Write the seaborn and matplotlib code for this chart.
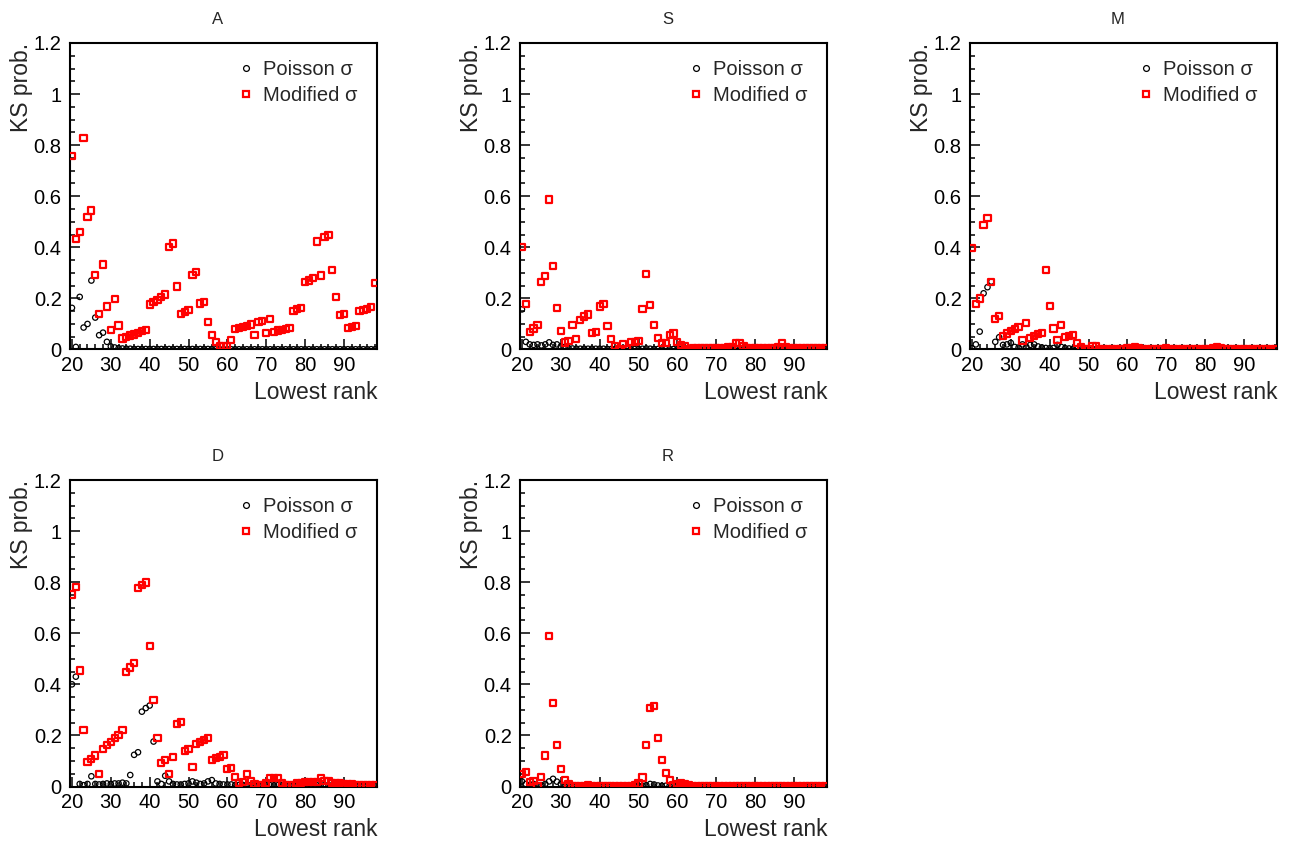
import numpy as np
import pandas as pd
import seaborn as sns
import matplotlib.pyplot as plt
from matplotlib.lines import Line2D
from matplotlib.ticker import MultipleLocator, FuncFormatter

rank = list(range(20, 99))

# panel A
poisson_A = [0.163, 0.010, 0.206, 0.086, 0.100, 0.270, 0.125, 0.056, 0.066, 0.030,
             0.012, 0.008, 0.005, 0.004, 0.003, 0.003, 0.002, 0.002, 0.002, 0.002,
             0.002, 0.002, 0.002, 0.002, 0.002, 0.002, 0.002, 0.002, 0.002, 0.002,
             0.002, 0.002, 0.002, 0.002, 0.002, 0.002, 0.002, 0.001, 0.001, 0.001,
             0.001, 0.001, 0.001, 0.001, 0.001, 0.001, 0.001, 0.001, 0.001, 0.001,
             0.001, 0.001, 0.001, 0.001, 0.001, 0.001, 0.001, 0.001, 0.001, 0.001,
             0.001, 0.001, 0.001, 0.001, 0.001, 0.001, 0.001, 0.001, 0.001, 0.001,
             0.001, 0.001, 0.001, 0.001, 0.001, 0.001, 0.001, 0.001, 0.001]
modified_A = [0.759, 0.434, 0.460, 0.827, 0.518, 0.544, 0.293, 0.139, 0.333, 0.168,
              0.077, 0.198, 0.094, 0.043, 0.048, 0.055, 0.059, 0.066, 0.073, 0.075,
              0.176, 0.186, 0.193, 0.207, 0.215, 0.401, 0.415, 0.247, 0.139, 0.148,
              0.156, 0.293, 0.302, 0.180, 0.187, 0.107, 0.057, 0.030, 0.015, 0.015,
              0.015, 0.037, 0.079, 0.085, 0.089, 0.092, 0.098, 0.056, 0.107, 0.111,
              0.065, 0.120, 0.070, 0.074, 0.077, 0.081, 0.085, 0.150, 0.159, 0.161,
              0.264, 0.270, 0.279, 0.423, 0.290, 0.439, 0.447, 0.310, 0.206, 0.134,
              0.138, 0.083, 0.087, 0.092, 0.151, 0.155, 0.160, 0.165, 0.260]

# panel S
poisson_S = [0.157, 0.030, 0.020, 0.018, 0.020, 0.016, 0.020, 0.028, 0.018, 0.020,
             0.012, 0.010, 0.005, 0.004, 0.003, 0.003, 0.003, 0.003, 0.003, 0.003,
             0.003, 0.003, 0.002, 0.002, 0.002, 0.002, 0.002, 0.002, 0.002, 0.002,
             0.002, 0.003, 0.004, 0.003, 0.002, 0.002, 0.002, 0.002, 0.002, 0.002,
             0.002, 0.002, 0.001, 0.001, 0.001, 0.001, 0.001, 0.001, 0.001, 0.001,
             0.001, 0.001, 0.001, 0.002, 0.002, 0.003, 0.003, 0.002, 0.001, 0.001,
             0.001, 0.001, 0.001, 0.001, 0.001, 0.001, 0.002, 0.002, 0.001, 0.001,
             0.001, 0.001, 0.001, 0.001, 0.001, 0.001, 0.001, 0.001, 0.001]
modified_S = [0.400, 0.178, 0.067, 0.082, 0.096, 0.263, 0.287, 0.587, 0.327, 0.163,
              0.071, 0.027, 0.032, 0.095, 0.041, 0.117, 0.129, 0.137, 0.065, 0.069,
              0.168, 0.178, 0.092, 0.040, 0.015, 0.003, 0.020, 0.003, 0.028, 0.030,
              0.032, 0.158, 0.296, 0.173, 0.096, 0.046, 0.024, 0.024, 0.058, 0.063,
              0.028, 0.018, 0.014, 0.003, 0.004, 0.004, 0.004, 0.004, 0.004, 0.004,
              0.004, 0.004, 0.006, 0.009, 0.011, 0.024, 0.024, 0.014, 0.006, 0.004,
              0.004, 0.004, 0.004, 0.004, 0.004, 0.006, 0.011, 0.024, 0.011, 0.005,
              0.004, 0.004, 0.004, 0.004, 0.004, 0.004, 0.004, 0.004, 0.004]

# panel M
poisson_M = [0.005, 0.020, 0.070, 0.220, 0.244, 0.266, 0.030, 0.048, 0.018, 0.020,
             0.026, 0.010, 0.008, 0.020, 0.010, 0.018, 0.020, 0.012, 0.008, 0.006,
             0.005, 0.006, 0.018, 0.010, 0.005, 0.004, 0.003, 0.003, 0.002, 0.002,
             0.002, 0.002, 0.002, 0.002, 0.002, 0.002, 0.002, 0.002, 0.002, 0.002,
             0.001, 0.001, 0.001, 0.001, 0.001, 0.001, 0.001, 0.001, 0.001, 0.001,
             0.001, 0.001, 0.001, 0.001, 0.001, 0.001, 0.001, 0.001, 0.001, 0.001,
             0.001, 0.001, 0.001, 0.001, 0.001, 0.001, 0.001, 0.001, 0.001, 0.001,
             0.001, 0.001, 0.001, 0.001, 0.001, 0.001, 0.001, 0.001, 0.001]
modified_M = [0.397, 0.178, 0.200, 0.486, 0.514, 0.265, 0.118, 0.131, 0.054, 0.063,
              0.073, 0.080, 0.089, 0.035, 0.105, 0.046, 0.053, 0.061, 0.065, 0.310,
              0.169, 0.082, 0.036, 0.097, 0.049, 0.053, 0.057, 0.024, 0.011, 0.003,
              0.003, 0.015, 0.015, 0.003, 0.002, 0.002, 0.002, 0.002, 0.002, 0.003,
              0.004, 0.006, 0.008, 0.004, 0.003, 0.003, 0.002, 0.002, 0.002, 0.002,
              0.006, 0.003, 0.002, 0.002, 0.002, 0.002, 0.002, 0.002, 0.002, 0.002,
              0.002, 0.003, 0.004, 0.008, 0.004, 0.003, 0.002, 0.002, 0.002, 0.002,
              0.002, 0.002, 0.002, 0.002, 0.002, 0.002, 0.002, 0.002, 0.002]

# panel D
poisson_D = [0.400, 0.430, 0.010, 0.005, 0.010, 0.040, 0.010, 0.008, 0.010, 0.012,
             0.010, 0.012, 0.012, 0.015, 0.012, 0.045, 0.124, 0.134, 0.293, 0.307,
             0.317, 0.176, 0.020, 0.010, 0.042, 0.020, 0.010, 0.008, 0.008, 0.010,
             0.012, 0.020, 0.015, 0.010, 0.012, 0.020, 0.025, 0.012, 0.010, 0.008,
             0.008, 0.008, 0.006, 0.006, 0.006, 0.006, 0.005, 0.005, 0.005, 0.005,
             0.005, 0.005, 0.005, 0.005, 0.005, 0.005, 0.005, 0.005, 0.005, 0.005,
             0.005, 0.005, 0.005, 0.005, 0.005, 0.005, 0.005, 0.005, 0.005, 0.005,
             0.004, 0.004, 0.004, 0.004, 0.004, 0.004, 0.004, 0.004, 0.004]
modified_D = [0.752, 0.781, 0.454, 0.222, 0.095, 0.108, 0.121, 0.049, 0.148, 0.162,
              0.175, 0.189, 0.202, 0.222, 0.448, 0.466, 0.484, 0.777, 0.790, 0.799,
              0.551, 0.339, 0.189, 0.093, 0.103, 0.048, 0.117, 0.244, 0.253, 0.139,
              0.148, 0.075, 0.165, 0.175, 0.181, 0.189, 0.103, 0.113, 0.117, 0.122,
              0.067, 0.071, 0.036, 0.015, 0.018, 0.049, 0.022, 0.010, 0.005, 0.005,
              0.013, 0.032, 0.032, 0.032, 0.015, 0.006, 0.006, 0.006, 0.013, 0.013,
              0.017, 0.017, 0.017, 0.017, 0.032, 0.020, 0.020, 0.013, 0.013, 0.013,
              0.008, 0.008, 0.008, 0.005, 0.005, 0.005, 0.005, 0.005, 0.005]

# panel R
poisson_R = [0.020, 0.010, 0.005, 0.010, 0.005, 0.005, 0.010, 0.020, 0.030, 0.019,
             0.010, 0.003, 0.003, 0.003, 0.003, 0.003, 0.003, 0.003, 0.003, 0.003,
             0.003, 0.003, 0.003, 0.003, 0.003, 0.003, 0.003, 0.003, 0.003, 0.003,
             0.003, 0.003, 0.005, 0.010, 0.008, 0.004, 0.003, 0.003, 0.003, 0.003,
             0.003, 0.003, 0.003, 0.002, 0.002, 0.002, 0.002, 0.002, 0.002, 0.002,
             0.002, 0.002, 0.002, 0.002, 0.002, 0.002, 0.002, 0.002, 0.002, 0.002,
             0.002, 0.002, 0.002, 0.002, 0.002, 0.002, 0.002, 0.002, 0.002, 0.002,
             0.002, 0.002, 0.002, 0.002, 0.002, 0.002, 0.002, 0.002, 0.002]
modified_R = [0.049, 0.057, 0.018, 0.020, 0.002, 0.036, 0.121, 0.590, 0.327, 0.162,
              0.070, 0.024, 0.008, 0.003, 0.002, 0.002, 0.002, 0.004, 0.002, 0.002,
              0.002, 0.002, 0.002, 0.002, 0.002, 0.002, 0.002, 0.002, 0.002, 0.004,
              0.012, 0.035, 0.163, 0.307, 0.316, 0.189, 0.103, 0.052, 0.025, 0.007,
              0.011, 0.015, 0.010, 0.004, 0.003, 0.003, 0.003, 0.003, 0.003, 0.003,
              0.003, 0.003, 0.003, 0.003, 0.003, 0.003, 0.003, 0.003, 0.003, 0.003,
              0.003, 0.003, 0.003, 0.003, 0.003, 0.003, 0.003, 0.003, 0.003, 0.003,
              0.003, 0.003, 0.003, 0.003, 0.003, 0.003, 0.003, 0.003, 0.003]

panels = [("A", poisson_A, modified_A), ("S", poisson_S, modified_S),
          ("M", poisson_M, modified_M), ("D", poisson_D, modified_D),
          ("R", poisson_R, modified_R)]

W, H = 1291, 846
# axes boxes in pixels: left, top of frame
boxes = {"A": (70, 43), "S": (520, 43), "M": (970, 43),
         "D": (70, 480), "R": (520, 480)}
aw, ah = 307, 306.5

sns.set_theme(style="white")
plt.rcParams["font.family"] = ["Liberation Sans", "DejaVu Sans"]

fig = plt.figure(figsize=(W / 100, H / 100), dpi=100)

for name, poi, mod in panels:
    l, t = boxes[name]
    ax = fig.add_axes([l / W, 1 - (t + ah) / H, aw / W, ah / H])
    df = pd.DataFrame({"rank": rank, "poisson": poi, "modified": mod})
    sns.scatterplot(data=df, x="rank", y="poisson", marker="o", s=15,
                    facecolor="none", edgecolor="black", linewidth=0.9,
                    ax=ax, zorder=3)
    sns.scatterplot(data=df, x="rank", y="modified", marker="s", s=20,
                    facecolor="none", edgecolor="red", linewidth=1.6,
                    ax=ax, zorder=4)
    ax.set_xlim(19.5, 98.5)
    ax.set_ylim(0, 1.2)
    ax.xaxis.set_major_locator(MultipleLocator(10))
    ax.xaxis.set_minor_locator(MultipleLocator(2))
    ax.yaxis.set_major_locator(MultipleLocator(0.2))
    ax.yaxis.set_minor_locator(MultipleLocator(0.05))
    ax.yaxis.set_major_formatter(FuncFormatter(lambda v, p: f"{v:g}"))
    ax.tick_params(which="both", direction="in", width=1.1, colors="black",
                   labelsize=14.5, bottom=True, left=True, top=False, right=False)
    ax.tick_params(which="major", length=7, pad=5)
    ax.tick_params(which="minor", length=3.5)
    ax.tick_params(axis="y", which="major", pad=6)
    for sp in ax.spines.values():
        sp.set_color("black")
        sp.set_linewidth(1.5)
    ax.set_xlabel("Lowest rank", loc="right", fontsize=16.5, labelpad=4)
    ax.set_ylabel("KS prob.", loc="top", fontsize=16.5, labelpad=0.5)
    ax.text(0.48, 1 + 24 / ah, name, transform=ax.transAxes,
            ha="center", va="center", fontsize=12)
    handles = [Line2D([], [], ls="", marker="o", ms=4.2, mfc="none",
                      mec="black", mew=0.9),
               Line2D([], [], ls="", marker="s", ms=5, mfc="none",
                      mec="red", mew=1.6)]
    ax.legend(handles, ["Poisson σ", "Modified σ"], loc="upper left",
              bbox_to_anchor=(0.48, 1.005), frameon=False, fontsize=14.5,
              handlelength=1.0, handletextpad=0.35, labelspacing=0.35)

fig.savefig("out.png", dpi=100)
